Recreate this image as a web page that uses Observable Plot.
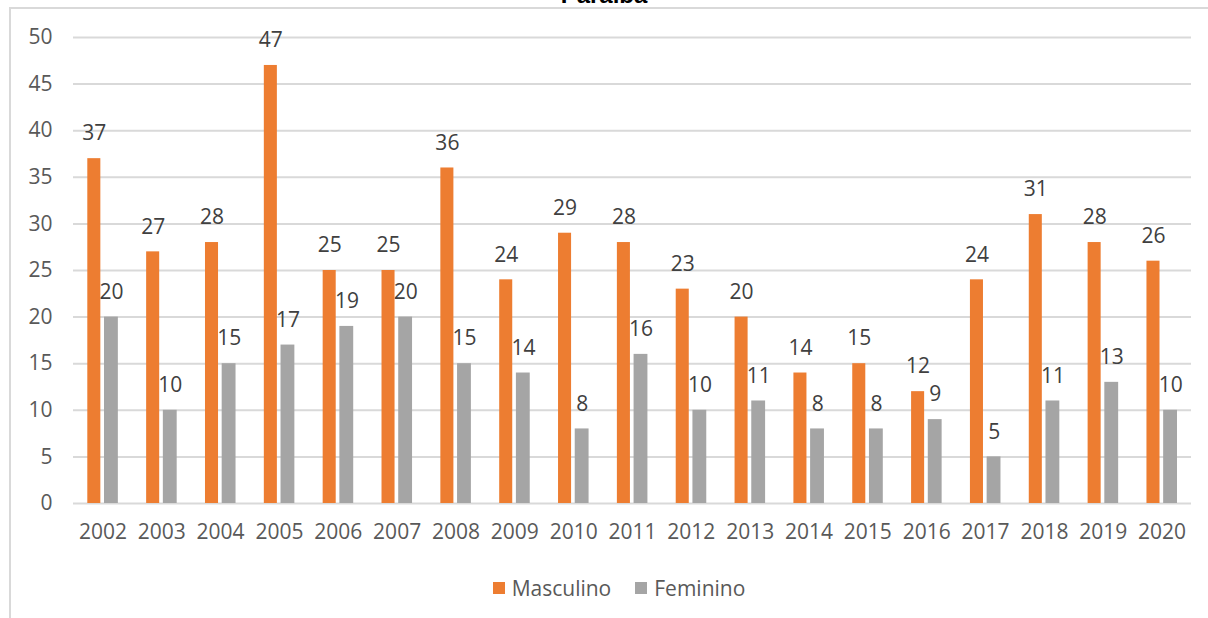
<!DOCTYPE html>
<html>
<head>
<meta charset="utf-8">
<script src="https://cdn.jsdelivr.net/npm/d3@7"></script>
<script src="https://cdn.jsdelivr.net/npm/@observablehq/plot@0.6"></script>
<style>
  html, body { margin: 0; padding: 0; background: #fff; overflow: hidden; }
  #wrap { position: relative; width: 1208px; height: 618px; }
  #frame { position: absolute; left: 9px; top: 7px; right: -4px; bottom: -4px;
           border-left: 2px solid #d9d9d9; border-top: 2px solid #d9d9d9; }
  #title { position: absolute; left: 0; width: 1208px; top: -17px; text-align: center;
           font: bold 24px "Liberation Sans", Arial, sans-serif; line-height: 24px; color: #000; }
  #chart { position: absolute; left: 0; top: 0; }
  #legend { position: absolute; left: 0; width: 1208px; top: 574px; display: flex; justify-content: center;
            gap: 24px; font: 21px "Open Sans", sans-serif; color: #595959; padding-left: 30px; box-sizing: border-box; }
  .item { display: flex; align-items: center; gap: 7px; }
  .sw { width: 12px; height: 12px; display: inline-block; }
</style>
</head>
<body>
<div id="wrap">
  <div id="frame"></div>
  <div id="title">Paraíba</div>
  <div id="chart"></div>
  <div id="legend"></div>
</div>
<script>
const years = ["2002","2003","2004","2005","2006","2007","2008","2009","2010","2011","2012","2013","2014","2015","2016","2017","2018","2019","2020"];
const masculino = [37,27,28,47,25,25,36,24,29,28,23,20,14,15,12,24,31,28,26];
const feminino  = [20,10,15,17,19,20,15,14,8,16,10,11,8,8,9,5,11,13,10];
const seriesNames = ["Masculino", "Feminino"];
const seriesColors = ["#ED7D31", "#A5A5A5"];
const yTicks = [0,5,10,15,20,25,30,35,40,45,50];

const dataM = years.map((y, i) => ({year: y, value: masculino[i]}));
const dataF = years.map((y, i) => ({year: y, value: feminino[i]}));

const chart = Plot.plot({
  width: 1208,
  height: 560,
  marginLeft: 73,
  marginRight: 17,
  marginTop: 37,
  marginBottom: 57,
  style: {fontFamily: "'Open Sans', sans-serif", fontSize: "21px", color: "#595959", background: "transparent"},
  x: {type: "band", domain: years, padding: 0, round: false, label: null, tickSize: 0, tickPadding: 21},
  y: {domain: [0, 50], ticks: yTicks, label: null, tickSize: 0, tickPadding: 21},
  marks: [
    Plot.ruleY(yTicks, {stroke: "#d9d9d9", strokeWidth: 2}),
    Plot.barY(dataM, {x: "year", y: "value", fill: seriesColors[0], insetLeft: 14.3, insetRight: 31.5}),
    Plot.barY(dataF, {x: "year", y: "value", fill: seriesColors[1], insetLeft: 31, insetRight: 14}),
    Plot.text(dataM, {x: "year", y: "value", text: d => String(d.value), dx: -8.6, dy: -25, fill: "#404040", fontSize: 21}),
    Plot.text(dataF, {x: "year", y: "value", text: d => String(d.value), dx: 8.6, dy: -25, fill: "#404040", fontSize: 21})
  ]
});
document.getElementById("chart").appendChild(chart);

const legend = document.getElementById("legend");
seriesNames.forEach((n, i) => {
  const it = document.createElement("div");
  it.className = "item";
  const sw = document.createElement("span");
  sw.className = "sw";
  sw.style.background = seriesColors[i];
  const t = document.createElement("span");
  t.textContent = n;
  it.appendChild(sw); it.appendChild(t);
  legend.appendChild(it);
});
</script>
</body>
</html>
